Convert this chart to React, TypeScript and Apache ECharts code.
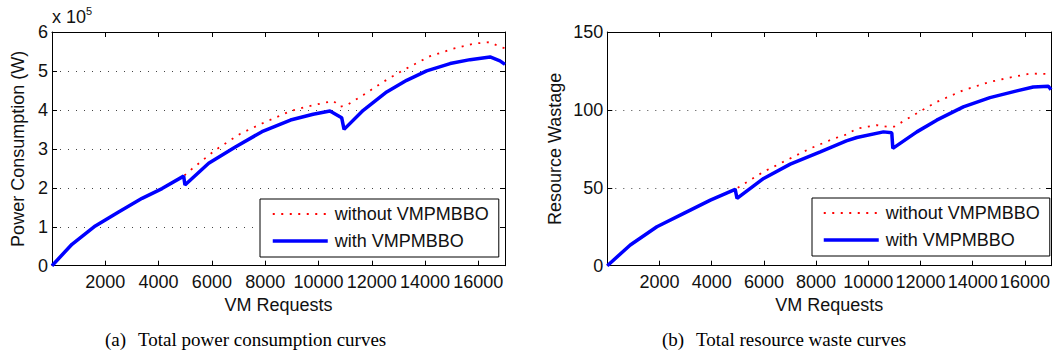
import React, { useEffect, useRef } from "react";
import * as echarts from "echarts";

// ---- Data (VM requests, value) ----
const SERIES_NAMES = ["without VMPMBBO", "with VMPMBBO"];

// (a) Total power consumption (W)
const powerWithout: [number, number][] = [
  [0, 0], [750, 55000], [1625, 102000], [2500, 138000], [3380, 173000], [4130, 198000],
  [4940, 230000], [5190, 245000], [6130, 297000], [7070, 339000], [7880, 365000],
  [8950, 397000], [9430, 406000], [10060, 416000], [10560, 423000], [10810, 408000],
  [11060, 412000], [11680, 438000], [12430, 472000], [13180, 502000], [14190, 538000],
  [15060, 557000], [15810, 570000], [16440, 574000], [16810, 562000], [17000, 558000],
];
const powerWith: [number, number][] = [
  [0, 0], [750, 55000], [1625, 102000], [2500, 138000], [3380, 173000], [4130, 198000],
  [4940, 230000], [4990, 207000], [5880, 263000], [6880, 305000], [7880, 344000],
  [8950, 374000], [9800, 389000], [10430, 397000], [10870, 380000], [10960, 350000],
  [11680, 399000], [12560, 446000], [13310, 476000], [14060, 500000], [14940, 519000],
  [15690, 529000], [16440, 536000], [16810, 526000], [17000, 517000],
];

// (b) Total resource wastage
const wasteWithout: [number, number][] = [
  [0, 0], [880, 13.3], [1900, 25], [2930, 33.6], [3950, 42.1], [4900, 49.0],
  [5230, 52.4], [5990, 60.3], [6880, 67.8], [7780, 75.3], [8670, 81.5], [9160, 84.2],
  [9560, 88], [10320, 90.2], [10770, 89.1], [11000, 89.3], [11730, 96.6], [12620, 105.1],
  [13640, 112.6], [14660, 118], [15560, 121.2], [16200, 123.3], [17000, 123],
];
const wasteWith: [number, number][] = [
  [0, 0], [880, 13.3], [1900, 25], [2930, 33.6], [3950, 42.1], [4900, 49.0],
  [4970, 43.2], [5990, 56], [7010, 65.2], [8160, 73.1], [9160, 80.1], [9560, 82.3],
  [10580, 85.9], [10900, 85.3], [10940, 75.3], [11860, 85.9], [12620, 93.4],
  [13640, 101.9], [14660, 107.9], [15690, 112.2], [16320, 114.7], [16900, 115.2], [17000, 113],
];

// ---- Axis ranges / tick labels ----
const X_MIN = 0, X_MAX = 17000, X_INTERVAL = 2000;
const POWER_MAX = 600000, POWER_INTERVAL = 100000, POWER_SCALE = 100000;
const WASTE_MAX = 150, WASTE_INTERVAL = 50;
const X_NAME = "VM Requests";
const POWER_NAME = "Power Consumption (W)";
const WASTE_NAME = "Resource Wastage";
const CAPTIONS = [["(a)", "Total power consumption curves"], ["(b)", "Total resource waste curves"]];

const SANS = "'Liberation Sans', Arial, Helvetica, sans-serif";
const SERIF = "'Liberation Serif', 'Times New Roman', serif";
const TXT = "#111";

export default function App() {
  const ref = useRef<HTMLDivElement>(null);
  useEffect(() => {
    if (!ref.current) return;
    const chart = echarts.init(ref.current, undefined, { renderer: "svg" });

    const grids = [
      { left: 52, top: 32, width: 453, height: 233.7 },
      { left: 607.3, top: 32, width: 443.7, height: 233.7 },
    ];

    const axisLine = { show: true, onZero: false, lineStyle: { color: "#000", width: 1 } };
    const axisTick = { show: true, inside: true, length: 5, lineStyle: { color: "#000" } };

    const xAxes: any[] = [];
    const yAxes: any[] = [];
    [0, 1].forEach((g) => {
      xAxes.push({
        gridIndex: g, type: "value", position: "bottom", min: X_MIN, max: X_MAX, interval: X_INTERVAL,
        axisLine, axisTick, splitLine: { show: false },
        axisLabel: {
          show: true, showMaxLabel: false, margin: 7, color: TXT, fontSize: 18, fontFamily: SANS,
          formatter: (v: number) => (v === 0 ? "" : String(v)),
        },
        name: X_NAME, nameLocation: "middle", nameGap: 27,
        nameTextStyle: { color: TXT, fontSize: 18, fontFamily: SANS },
      });
      xAxes.push({
        gridIndex: g, type: "value", position: "top", min: X_MIN, max: X_MAX, interval: X_INTERVAL,
        axisLine, axisTick, splitLine: { show: false }, axisLabel: { show: false },
      });
      const isPower = g === 0;
      yAxes.push({
        gridIndex: g, type: "value", position: "left", min: 0,
        max: isPower ? POWER_MAX : WASTE_MAX, interval: isPower ? POWER_INTERVAL : WASTE_INTERVAL,
        axisLine, axisTick,
        splitLine: { show: true, lineStyle: { color: "#444", width: 1, type: [1, 7] } },
        axisLabel: {
          show: true, margin: 4, color: TXT, fontSize: 18, fontFamily: SANS,
          formatter: (v: number) => (isPower ? String(v / POWER_SCALE) : String(v)),
        },
        name: isPower ? POWER_NAME : WASTE_NAME, nameLocation: "middle", nameGap: isPower ? 25 : 43,
        nameTextStyle: { color: TXT, fontSize: 18, fontFamily: SANS },
      });
      yAxes.push({
        gridIndex: g, type: "value", position: "right", min: 0,
        max: isPower ? POWER_MAX : WASTE_MAX, interval: isPower ? POWER_INTERVAL : WASTE_INTERVAL,
        axisLine, axisTick, splitLine: { show: false }, axisLabel: { show: false },
      });
    });

    const redStyle = { color: "#ff0000", width: 1.8, type: [2, 6.5] };
    const blueStyle = { color: "#0000ff", width: 3.5, type: "solid" };
    const mk = (name: string, data: [number, number][], g: number, style: any) => ({
      type: "line", name, data, xAxisIndex: g * 2, yAxisIndex: g * 2,
      symbol: "none", showSymbol: false, smooth: false,
      lineStyle: style, itemStyle: { color: style.color }, emphasis: { disabled: true },
    });

    const legendBase = {
      orient: "vertical", selectedMode: false, data: SERIES_NAMES,
      itemWidth: 55, itemHeight: 18, itemGap: 9,
      borderColor: "#000", borderWidth: 1, backgroundColor: "#fff", borderRadius: 0,
      lineStyle: { width: "inherit" },
      itemStyle: { opacity: 0, borderWidth: 0 },
      textStyle: { color: TXT, fontSize: 18, fontFamily: SANS, lineHeight: 18, padding: [0, 0, 0, 2] },
    };

    const capText = (x: number, y: number, text: string) => ({
      type: "text", x, y,
      style: { text, font: `19px ${SERIF}`, fill: "#000", verticalAlign: "middle", align: "left" },
    });

    chart.setOption({
      animation: false,
      grid: grids,
      xAxis: xAxes,
      yAxis: yAxes,
      legend: [
        { ...legendBase, left: 260, top: 199, padding: [6, 10, 7, 11] },
        { ...legendBase, left: 812, top: 198, padding: [6, 10, 7, 10] },
      ],
      series: [
        mk(SERIES_NAMES[0], powerWithout, 0, redStyle),
        mk(SERIES_NAMES[1], powerWith, 0, blueStyle),
        mk(SERIES_NAMES[0], wasteWithout, 1, redStyle),
        mk(SERIES_NAMES[1], wasteWith, 1, blueStyle),
      ],
      graphic: [
        { type: "text", x: 52, y: 16.8, style: { text: "x 10", font: `18px ${SANS}`, fill: TXT, verticalAlign: "middle" } },
        { type: "text", x: 86, y: 10.5, style: { text: "5", font: `11px ${SANS}`, fill: TXT, verticalAlign: "middle" } },
        capText(105, 339.6, CAPTIONS[0][0]),
        capText(138, 339.6, CAPTIONS[0][1]),
        capText(662, 339.6, CAPTIONS[1][0]),
        capText(696, 339.6, CAPTIONS[1][1]),
      ],
    });
    return () => chart.dispose();
  }, []);
  return (
    <div
      ref={ref}
      style={{ position: "absolute", left: 0, top: 0, width: 1054, height: 359, background: "#fff" }}
    />
  );
}
